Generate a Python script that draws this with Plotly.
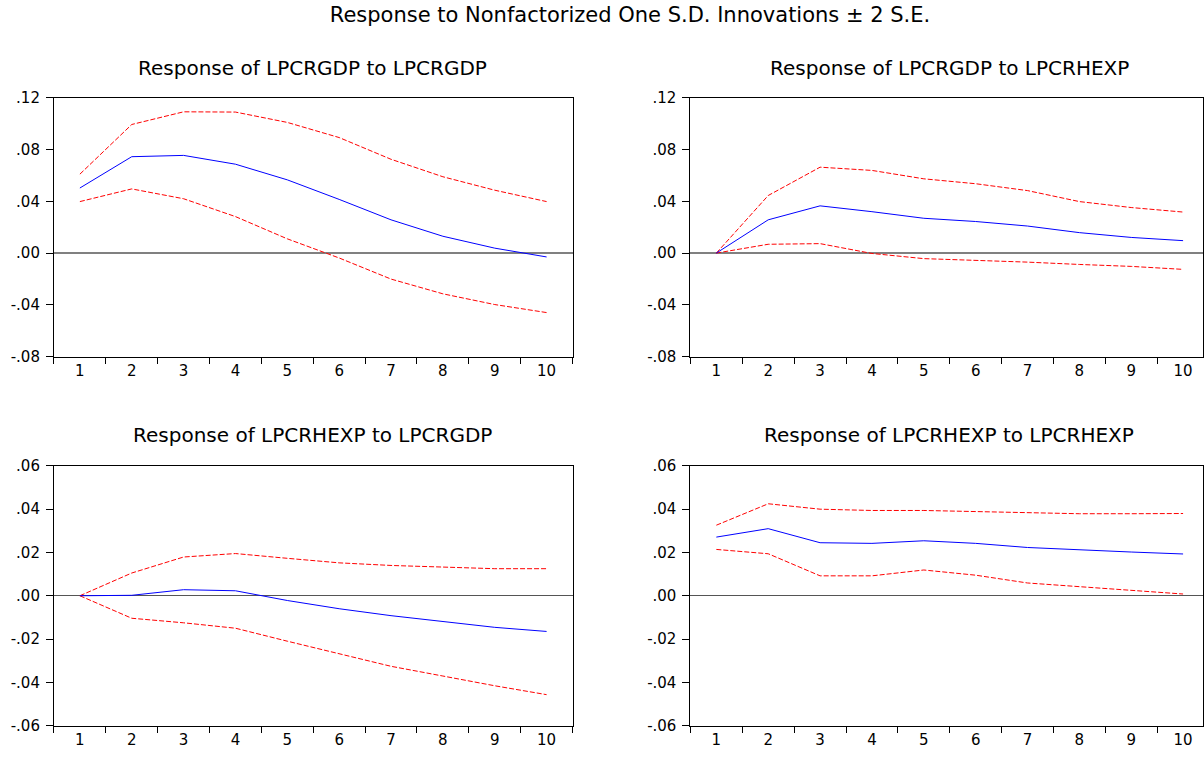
import plotly.graph_objects as go
from plotly.subplots import make_subplots

# forecast horizon
periods = list(range(1, 11))

# Response of LPCRGDP to LPCRGDP
gdp_gdp = [0.0503, 0.0745, 0.0755, 0.0687, 0.0566, 0.0415, 0.0257, 0.0130, 0.0038, -0.0030]
gdp_gdp_hi = [0.0610, 0.0994, 0.1092, 0.1090, 0.1010, 0.0893, 0.0725, 0.0590, 0.0486, 0.0398]
gdp_gdp_lo = [0.0398, 0.0496, 0.0420, 0.0282, 0.0110, -0.0038, -0.0201, -0.0315, -0.0398, -0.0460]

# Response of LPCRGDP to LPCRHEXP
gdp_hexp = [0.0, 0.0257, 0.0365, 0.0320, 0.0269, 0.0244, 0.0209, 0.0158, 0.0121, 0.0096]
gdp_hexp_hi = [0.0, 0.0445, 0.0664, 0.0639, 0.0574, 0.0536, 0.0483, 0.0398, 0.0352, 0.0317]
gdp_hexp_lo = [0.0, 0.0068, 0.0073, -0.0003, -0.0043, -0.0055, -0.0070, -0.0088, -0.0103, -0.0126]

# Response of LPCRHEXP to LPCRGDP
hexp_gdp = [0.0, 0.0002, 0.0028, 0.0023, -0.0022, -0.0060, -0.0092, -0.0120, -0.0146, -0.0165]
hexp_gdp_hi = [0.0, 0.0105, 0.0179, 0.0195, 0.0173, 0.0152, 0.0140, 0.0131, 0.0125, 0.0125]
hexp_gdp_lo = [0.0, -0.0104, -0.0125, -0.0150, -0.0210, -0.0269, -0.0326, -0.0371, -0.0416, -0.0457]

# Response of LPCRHEXP to LPCRHEXP
hexp_hexp = [0.0271, 0.0310, 0.0245, 0.0242, 0.0254, 0.0242, 0.0223, 0.0211, 0.0202, 0.0193]
hexp_hexp_hi = [0.0326, 0.0425, 0.0400, 0.0394, 0.0394, 0.0388, 0.0383, 0.0379, 0.0379, 0.0380]
hexp_hexp_lo = [0.0214, 0.0194, 0.0092, 0.0092, 0.0119, 0.0095, 0.0059, 0.0042, 0.0027, 0.0008]

titles = [
    "Response of LPCRGDP to LPCRGDP",
    "Response of LPCRGDP to LPCRHEXP",
    "Response of LPCRHEXP to LPCRGDP",
    "Response of LPCRHEXP to LPCRHEXP",
]

top_ticks = [-0.08, -0.04, 0.0, 0.04, 0.08, 0.12]
top_labels = ["-.08", "-.04", ".00", ".04", ".08", ".12"]
bottom_ticks = [-0.06, -0.04, -0.02, 0.0, 0.02, 0.04, 0.06]
bottom_labels = ["-.06", "-.04", "-.02", ".00", ".02", ".04", ".06"]

panels = [
    (1, 1, gdp_gdp, gdp_gdp_hi, gdp_gdp_lo),
    (1, 2, gdp_hexp, gdp_hexp_hi, gdp_hexp_lo),
    (2, 1, hexp_gdp, hexp_gdp_hi, hexp_gdp_lo),
    (2, 2, hexp_hexp, hexp_hexp_hi, hexp_hexp_lo),
]

W, H = 1204, 759
FONT = "DejaVu Sans, Arial, sans-serif"

fig = make_subplots(rows=2, cols=2)

for r, c, mid, hi, lo in panels:
    for ys in (hi, lo):
        fig.add_trace(go.Scatter(x=periods, y=ys, mode="lines",
                                 line=dict(color="#ff0000", width=1, dash="5px,2px"),
                                 showlegend=False), row=r, col=c)
    fig.add_trace(go.Scatter(x=periods, y=mid, mode="lines",
                             line=dict(color="#0000ff", width=1),
                             showlegend=False), row=r, col=c)

# plot areas in pixels (left, right, top, bottom)
xdom = {1: (54 / W, 573 / W), 2: (691 / W, 1.0)}
ydom = {1: (1 - 356 / H, 1 - 91 / H), 2: (1 - 734 / H, 1 - 468 / H)}
xrng = {1: [0.5, 10.5], 2: [0.5, 10.384]}

for r in (1, 2):
    for c in (1, 2):
        fig.update_xaxes(domain=xdom[c], range=xrng[c],
                         tickvals=periods, ticks="",
                         minor=dict(tickvals=[p - 0.5 for p in periods] + [10.5],
                                    ticks="outside", ticklen=6, tickcolor="black"),
                         showline=True, mirror=True, linecolor="black", linewidth=1,
                         showgrid=False, zeroline=False,
                         tickfont=dict(family=FONT, size=15, color="black"),
                         row=r, col=c)
        fig.update_yaxes(domain=ydom[r],
                         range=[-0.08, 0.12] if r == 1 else [-0.06, 0.06],
                         tickvals=top_ticks if r == 1 else bottom_ticks,
                         ticktext=top_labels if r == 1 else bottom_labels,
                         ticks="outside", ticklen=7, tickcolor="black",
                         ticklabelstandoff=3,
                         showline=True, mirror=True, linecolor="black", linewidth=1,
                         showgrid=False, zeroline=True,
                         zerolinecolor="#808080" if r == 1 else "#555555",
                         zerolinewidth=1.5 if r == 1 else 1,
                         tickfont=dict(family=FONT, size=15, color="black"),
                         row=r, col=c)

title_pos = [(313, 60), (950, 60), (313, 436), (950, 436)]
for t, (px, py) in zip(titles, title_pos):
    fig.add_annotation(text=t, x=px / W, y=1 - py / H, xref="paper", yref="paper",
                       xanchor="center", yanchor="middle", showarrow=False,
                       font=dict(family=FONT, size=20, color="black"))

fig.update_layout(
    width=W, height=H,
    margin=dict(l=0, r=0, t=0, b=0),
    paper_bgcolor="white", plot_bgcolor="white",
    title=dict(text="Response to Nonfactorized One S.D. Innovations ± 2 S.E.",
               x=630 / W, xanchor="center", y=1 - 15 / H, yanchor="middle",
               font=dict(family=FONT, size=21, color="black")),
)

fig.write_html("out.html", config={"displayModeBar": False},
               post_script="document.body.style.margin='0';")
